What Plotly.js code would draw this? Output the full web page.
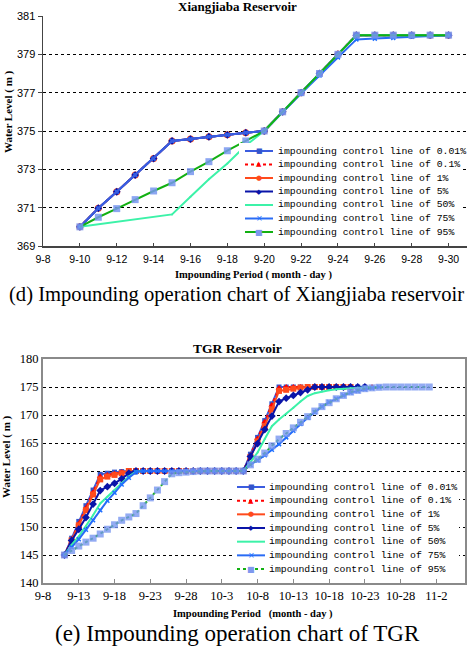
<!DOCTYPE html>
<html><head><meta charset="utf-8">
<script src="https://cdn.plot.ly/plotly-3.0.1.min.js"></script>
<style>html,body{margin:0;padding:0;background:#fff}</style>
</head><body><div id="chart" style="width:471px;height:648px"></div>
<script>
// ---------- data ----------
const seriesNames = [
  'impounding control line of 0.01%',
  'impounding control line of 0.1%',
  'impounding control line of 1%',
  'impounding control line of 5%',
  'impounding control line of 50%',
  'impounding control line of 75%',
  'impounding control line of 95%'
];

// Xiangjiaba reservoir (9-10 .. 9-30)
const xjbDates = ['2000-09-10','2000-09-11','2000-09-12','2000-09-13','2000-09-14','2000-09-15','2000-09-16',
  '2000-09-17','2000-09-18','2000-09-19','2000-09-20','2000-09-21','2000-09-22','2000-09-23','2000-09-24',
  '2000-09-25','2000-09-26','2000-09-27','2000-09-28','2000-09-29','2000-09-30'];
const xjb001 = [370,370.97,371.83,372.7,373.56,374.48,374.58,374.7,374.8,374.91,375,376,377,378,379,380,380,380,380,380,380];
const xjb01  = [370,370.97,371.83,372.7,373.56,374.48,374.58,374.7,374.8,374.91,375,376,377,378,379.05,380,380,380,380,380,380];
const xjb1   = [370,370.97,371.83,372.7,373.56,374.48,374.58,374.7,374.8,374.91,375,376,377,378,379,380,380,380,380,380,380];
const xjb5   = [370,370.97,371.83,372.7,373.56,374.48,374.58,374.7,374.8,374.91,375,376,377,378,379,380,380,380,380,380,380];
const xjb50  = [370,null,null,null,null,370.65,371.57,372.48,373.3,374.24,375,376,377,378,379,380,380,380,380,380,380];
const xjb75  = [370,370.97,371.83,372.7,373.56,374.48,374.58,374.7,374.8,374.91,375,376,376.95,377.9,378.84,379.78,379.82,379.86,379.92,379.97,380];
const xjb95  = [370,370.5,370.95,371.42,371.87,372.3,372.88,373.4,373.97,374.48,375,376,377,378,379,380,380,380,380,380,380];

// TGR reservoir (9-11 .. 11-1)
const tgrDates = ['2000-09-11','2000-09-12','2000-09-13','2000-09-14','2000-09-15','2000-09-16','2000-09-17',
  '2000-09-18','2000-09-19','2000-09-20','2000-09-21','2000-09-22','2000-09-23','2000-09-24','2000-09-25',
  '2000-09-26','2000-09-27','2000-09-28','2000-09-29','2000-09-30','2000-10-01','2000-10-02','2000-10-03',
  '2000-10-04','2000-10-05','2000-10-06','2000-10-07','2000-10-08','2000-10-09','2000-10-10','2000-10-11',
  '2000-10-12','2000-10-13','2000-10-14','2000-10-15','2000-10-16','2000-10-17','2000-10-18','2000-10-19',
  '2000-10-20','2000-10-21','2000-10-22','2000-10-23','2000-10-24','2000-10-25','2000-10-26','2000-10-27',
  '2000-10-28','2000-10-29','2000-10-30','2000-10-31','2000-11-01'];
const tgr001 = [145,148,151,153.8,156.6,159.4,159.6,159.8,159.9,
  160,160,160,160,160,160,160,160,160,160,160,160,160,160,160,160,160,
  163,166,169,172,175,
  175,175,175,175,175,175,175,175,175,175,175,175];
const tgr01 = [145,147.8,150.6,153.4,156.2,159,159.3,159.5,159.8,
  160,160,160,160,160,160,160,160,160,160,160,160,160,160,160,160,160,
  162.8,165.8,168.8,171.8,174.8,
  175,175,175,175,175,175,175,175,175,175,175,175,175];
const tgr1 = [145,147.6,150.3,153,155.8,158.5,159,159.3,159.6,
  160,160,160,160,160,160,160,160,160,160,160,160,160,160,160,160,160,
  162.5,165.3,168,171,174.3,174.5,174.7,174.9,
  175,175,175,175,175,175,175];
const tgr5 = [145,147.6,149.6,151.7,154.1,156.5,157.2,157.8,158.6,159.6,
  160,160,160,160,160,160,160,160,160,160,160,160,160,160,160,160,
  162.6,164.9,167.4,169.8,172.4,173,173.5,174,174.5,
  175,175,175,175,175,175,175,175];
const tgr50 = [145,146.8,148.3,150.1,152.1,154.2,155.4,156.6,157.8,159,159.9,
  160,160,160,160,160,160,160,160,160,160,160,160,160,160,160,
  161.6,163.3,165.7,168,169.2,170.2,171.3,172.4,173.4,173.9,174.2,174.4,174.6,174.7,174.8,174.9,
  175,175,175];
const tgr75 = [145,146.4,147.8,149.5,151.2,153,154.7,156.1,157.6,158.8,159.8,
  160,160,160,160,160,160,160,160,160,160,160,160,160,160,160,
  161.1,161.9,162.8,163.8,164.8,166,167.2,168.4,169.5,170.5,171.5,172.3,172.9,173.5,174,174.3,174.6,174.8,
  175];
const tgr95 = [145,145.8,146.6,147.3,148,148.75,149.6,150.4,151.2,151.8,152.4,153.8,155.2,156.6,158.1,159.5,159.7,159.8,159.9,
  160,160,160,160,160,160,160,
  161.1,162.1,163.2,164.5,165.7,166.7,167.7,168.7,169.7,170.7,171.5,172.2,172.9,173.5,174.1,174.4,174.7,174.85,174.95,
  175,175,175,175,175,175,175];

const xjbTicksY = [369,371,373,375,377,379,381];
const xjbGridY = [371,373,375,377,379];
const tgrGridY = [145,150,155,160,165,170,175];

// ---------- styles ----------
const W = 471, H = 648;
const px = v => v / W, py = v => 1 - v / H;
const styles = [
  {color:'#3B5CDF', dash:'solid', symbol:'square', msize:5, mcolor:'#3355CC', glyph:'\u25A0', gsize:7},
  {color:'#FF0000', dash:'3px,3px', symbol:'triangle-up', msize:6, mcolor:'#FF0000', glyph:'\u25B2', gsize:7},
  {color:'#FF4A1C', dash:'solid', symbol:'circle', msize:7, mcolor:'#FF4A1C', glyph:'\u25CF', gsize:7},
  {color:'#0A14A8', dash:'solid', symbol:'diamond', msize:6, mcolor:'#0A14A8', glyph:'\u25C6', gsize:7},
  {color:'#3CF2A8', dash:'solid', symbol:'circle', msize:2, mcolor:'#3CF2A8', glyph:'', gsize:5},
  {color:'#2A6CF5', dash:'solid', symbol:'x-thin', msize:4, mcolor:'#2070FF', glyph:'\u00D7', gsize:8},
  {color:'#12B012', dash:'solid', symbol:'square', msize:7, mcolor:'rgba(120,150,240,0.85)', glyph:'\u25A0', gsize:8, gcolor:'#7F98EE'}
];

function mk(x, y, i, xa, ya, extra) {
  const s = styles[i];
  return Object.assign({
    type:'scatter', mode:'lines+markers', x:x.slice(0, y.length), y:y, xaxis:xa, yaxis:ya,
    name:seriesNames[i], connectgaps:true, showlegend:false, hoverinfo:'skip',
    line:{color:s.color, width:2, dash:s.dash},
    marker:{symbol:s.symbol, size:s.msize, color:s.mcolor, line:{width: s.symbol==='x-thin'?1.5:0, color:s.mcolor}}
  }, extra || {});
}

const xjbSeries = [xjb001, xjb01, xjb1, xjb5, xjb50, xjb75, xjb95];
const tgrSeries = [tgr001, tgr01, tgr1, tgr5, tgr50, tgr75, tgr95];

const traces = [];
const xjbDrawOrder = [1, 2, 3, 5, 0, 4, 6];
xjbDrawOrder.forEach(i => {
  const extra = {};
  if (i === 0) extra.marker = {symbol:'square', size:3, color:'#3B5CDF'};
  traces.push(mk(xjbDates, xjbSeries[i], i, 'x', 'y', extra));
});
tgrSeries.forEach((y, i) => {
  const extra = {};
  if (i === 2) extra.marker = {symbol:'square', size:6, color:'#FF4A1C'};
  if (i === 6) extra.line = {color:'#12B012', width:2, dash:'dot'};
  if (i === 6) extra.marker = {symbol:'square', size:7, color:'rgba(120,150,240,0.8)'};
  traces.push(mk(tgrDates, y, i, 'x2', 'y2', extra));
});

// ---------- legends (drawn in layout) ----------
const shapes = [], annotations = [];
function legend(top, step, bx0, bx1, by0, by1, lx0, lx1, tx, isTgr) {
  shapes.push({type:'rect', xref:'paper', yref:'paper', layer:'above',
    x0:px(bx0), x1:px(bx1), y0:py(by1), y1:py(by0), fillcolor:'#fff', line:{width:0}});
  seriesNames.forEach((name, i) => {
    const s = styles[i];
    const yy = py(top + step * i);
    let dash = s.dash, col = s.color;
    if (isTgr && i === 6) dash = 'dot';
    shapes.push({type:'line', xref:'paper', yref:'paper', layer:'above',
      x0:px(lx0), x1:px(lx1), y0:yy, y1:yy, line:{color:col, width:2, dash:dash}});
    if (s.glyph) annotations.push({xref:'paper', yref:'paper', x:px((lx0+lx1)/2), y:yy,
      text:s.glyph, showarrow:false, xanchor:'center', yanchor:'middle',
      font:{family:'DejaVu Sans', size:s.gsize, color:s.gcolor || s.mcolor}});
    annotations.push({xref:'paper', yref:'paper', x:px(tx), y:yy, text:name, showarrow:false,
      xanchor:'left', yanchor:'middle', font:{family:'Liberation Mono', size:9.8, color:'#000'}});
  });
}
legend(151, 13.5, 239, 462, 143, 240, 245, 273, 276, false);
legend(487, 13.67, 233, 459, 479, 577, 237, 265, 267, true);

const serif = 'Liberation Serif, Times New Roman, serif';
function ann(text, x, y, size, opts) {
  annotations.push(Object.assign({xref:'paper', yref:'paper', x:px(x), y:py(y), text:text, showarrow:false,
    xanchor:'center', yanchor:'middle', font:{family:serif, size:size, color:'#000'}}, opts || {}));
}
ann('<b>Xiangjiaba Reservoir</b>', 237, 6, 13);
ann('<b>Water Level ( m )</b>', 8, 112, 11, {textangle:-90});
ann('<b>Impounding Period ( month - day )</b>', 253, 275, 10.5);
ann('(d) Impounding operation chart of Xiangjiaba reservoir', 236, 294, 20.6);
ann('<b>TGR Reservoir</b>', 237, 348, 13.5);
ann('<b>Water Level ( m )</b>', 6, 457, 11, {textangle:-90});
ann('<b>Impounding Period   (month - day )</b>', 253, 614, 10.5);
ann('(e) Impounding operation chart of TGR', 237, 647.5, 23, {yanchor:'bottom'});

const gridCommon = {showgrid:true, gridcolor:'#000', gridwidth:1, griddash:'dot'};

const layout = {
  width:W, height:H, margin:{l:0, r:0, t:0, b:0},
  paper_bgcolor:'#fff', plot_bgcolor:'#fff', showlegend:false,
  xaxis:{domain:[px(43), px(467)], anchor:'y', type:'date',
    range:['2000-09-08','2000-10-01'], tick0:'2000-09-08', dtick:2*86400000, tickformat:'%-m-%-d',
    showgrid:false, zeroline:false, showline:true, linecolor:'#444', linewidth:1.5,
    ticks:'inside', ticklen:3, tickcolor:'#444', ticklabelstandoff:3,
    tickfont:{family:'Liberation Sans, Arial, sans-serif', size:10.5, color:'#000'}},
  yaxis:{domain:[py(246), py(16)], anchor:'x', range:[369,381], tickvals:xjbTicksY,
    showgrid:false, zeroline:false, showline:true, linecolor:'#444', linewidth:1.5,
    ticks:'outside', ticklen:4, tickcolor:'#444',
    tickfont:{family:'Liberation Sans, Arial, sans-serif', size:11, color:'#000'},
    minor:Object.assign({tickvals:xjbGridY, ticks:''}, gridCommon)},
  xaxis2:{domain:[px(43), px(465)], anchor:'y2', type:'date',
    range:['2000-09-08','2000-11-06'], tick0:'2000-09-08', dtick:5*86400000, tickformat:'%-m-%-d',
    showgrid:false, zeroline:false, showline:true, mirror:true, linecolor:'#8a8a8a', linewidth:2,
    ticks:'inside', ticklen:4, tickcolor:'#8a8a8a',
    tickfont:{family:serif, size:12.5, color:'#000'}},
  yaxis2:{domain:[py(583), py(359)], anchor:'x2', range:[140,180], dtick:5,
    showgrid:false, zeroline:false, showline:true, mirror:true, linecolor:'#8a8a8a', linewidth:2,
    ticks:'', tickfont:{family:serif, size:12.5, color:'#000'},
    minor:Object.assign({tickvals:tgrGridY, ticks:''}, gridCommon)},
  shapes:shapes, annotations:annotations
};

Plotly.newPlot('chart', traces, layout, {staticPlot:true, displayModeBar:false});
</script>
</body></html>
